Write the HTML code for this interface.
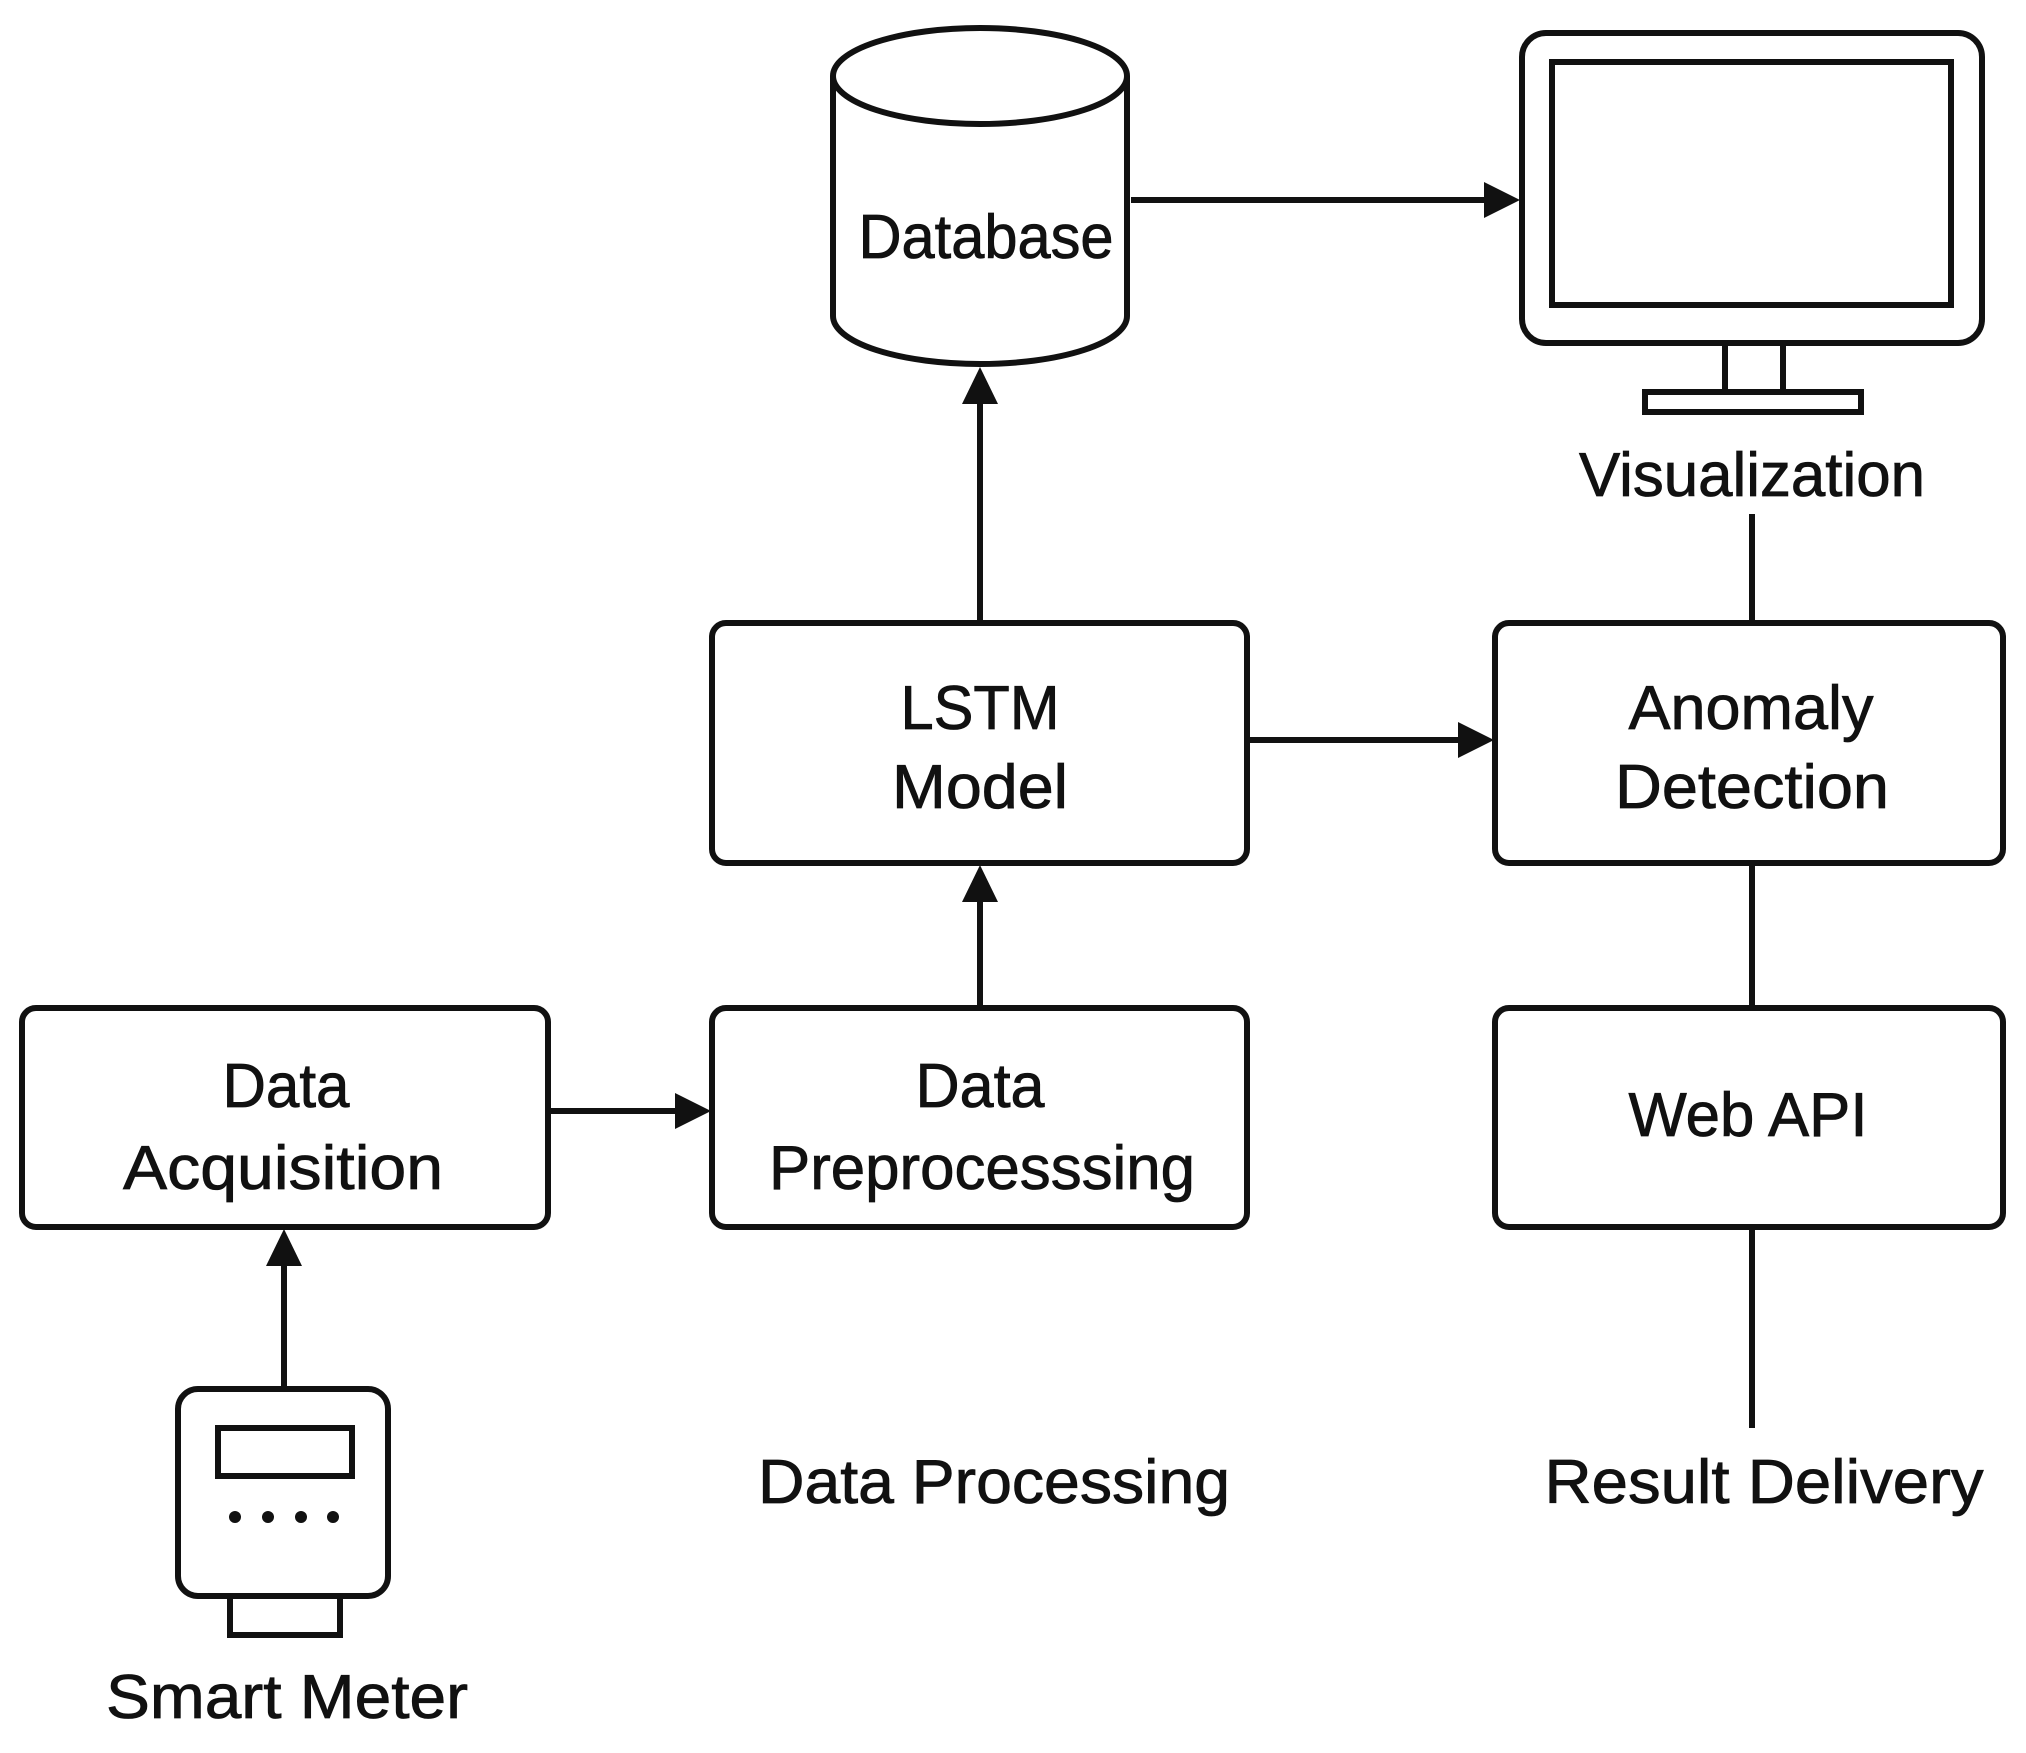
<!DOCTYPE html>
<html><head><meta charset="utf-8"><style>
html,body{margin:0;padding:0;background:#fff;}
svg{display:block;}
text{font-family:"Liberation Sans",sans-serif;font-size:62px;fill:#111;text-anchor:middle;stroke:#111;stroke-width:0.8px;}
</style></head><body>
<svg width="2026" height="1753" viewBox="0 0 2026 1753" xmlns="http://www.w3.org/2000/svg">
<g fill="none" stroke="#111" stroke-width="6">
<path d="M833,76 L833,316 A147,48 0 0 0 1127,316 L1127,76"/>
<ellipse cx="980" cy="76" rx="147" ry="48"/>
<rect x="1522" y="33" width="460" height="310" rx="24"/>
<rect x="1552" y="62" width="399" height="243"/>
<line x1="1725" y1="343" x2="1725" y2="394"/>
<line x1="1783" y1="343" x2="1783" y2="394"/>
<rect x="1645" y="392" width="216" height="20"/>
<rect x="712" y="623" width="535" height="240" rx="14"/>
<rect x="1495" y="623" width="508" height="240" rx="14"/>
<rect x="1495" y="1008" width="508" height="219" rx="14"/>
<rect x="22" y="1008" width="526" height="219" rx="14"/>
<rect x="712" y="1008" width="535" height="219" rx="14"/>
<rect x="178" y="1389" width="210" height="207" rx="20"/>
<rect x="218" y="1428" width="134" height="48"/>
<rect x="230" y="1596" width="110" height="39"/>
<line x1="1131" y1="200" x2="1490" y2="200"/>
<line x1="980" y1="623" x2="980" y2="400"/>
<line x1="1247" y1="740" x2="1460" y2="740"/>
<line x1="548" y1="1111" x2="680" y2="1111"/>
<line x1="980" y1="1008" x2="980" y2="898"/>
<line x1="284" y1="1389" x2="284" y2="1262"/>
<line x1="1752" y1="514" x2="1752" y2="623"/>
<line x1="1752" y1="863" x2="1752" y2="1008"/>
<line x1="1752" y1="1227" x2="1752" y2="1428"/>
</g>
<g fill="#111">
<circle cx="235" cy="1517" r="6"/><circle cx="268" cy="1517" r="6"/><circle cx="301" cy="1517" r="6"/><circle cx="333" cy="1517" r="6"/>
<polygon points="1520,200 1484,182 1484,218"/>
<polygon points="980,367 962,404 998,404"/>
<polygon points="1494,740 1458,722 1458,758"/>
<polygon points="711,1111 675,1093 675,1129"/>
<polygon points="980,865 962,902 998,902"/>
<polygon points="284,1229 266,1266 302,1266"/>
</g>
<text x="986" y="258" textLength="255" lengthAdjust="spacingAndGlyphs">Database</text>
<text x="1752" y="496" textLength="346" lengthAdjust="spacingAndGlyphs">Visualization</text>
<text x="980" y="729" textLength="159" lengthAdjust="spacingAndGlyphs">LSTM</text>
<text x="980" y="808" textLength="176" lengthAdjust="spacingAndGlyphs">Model</text>
<text x="1751" y="729" textLength="245" lengthAdjust="spacingAndGlyphs">Anomaly</text>
<text x="1752" y="808" textLength="274" lengthAdjust="spacingAndGlyphs">Detection</text>
<text x="1748" y="1136" textLength="239" lengthAdjust="spacingAndGlyphs">Web API</text>
<text x="286" y="1107" textLength="127" lengthAdjust="spacingAndGlyphs">Data</text>
<text x="283" y="1189" textLength="320" lengthAdjust="spacingAndGlyphs">Acquisition</text>
<text x="980" y="1107" textLength="129" lengthAdjust="spacingAndGlyphs">Data</text>
<text x="982" y="1189" textLength="426" lengthAdjust="spacingAndGlyphs">Preprocesssing</text>
<text x="994" y="1503" textLength="472" lengthAdjust="spacingAndGlyphs">Data Processing</text>
<text x="1764" y="1503" textLength="439" lengthAdjust="spacingAndGlyphs">Result Delivery</text>
<text x="287" y="1718" textLength="362" lengthAdjust="spacingAndGlyphs">Smart Meter</text>
</svg>
</body></html>
